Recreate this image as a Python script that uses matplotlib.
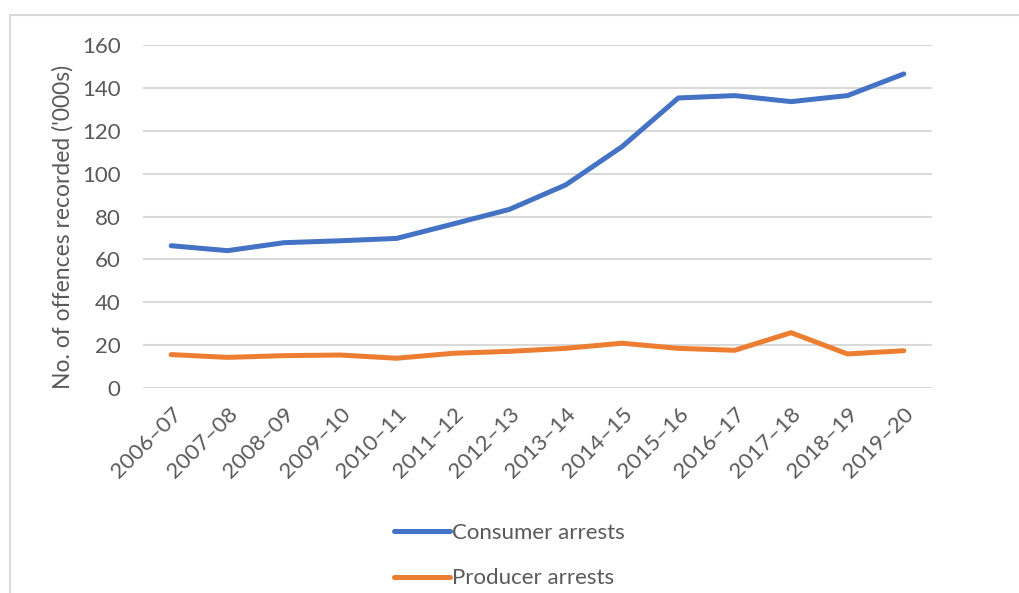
import matplotlib.pyplot as plt
from matplotlib.lines import Line2D

years = ['2006–07', '2007–08', '2008–09', '2009–10', '2010–11', '2011–12', '2012–13',
         '2013–14', '2014–15', '2015–16', '2016–17', '2017–18', '2018–19', '2019–20']
consumer = [66.4, 64.1, 67.8, 68.7, 69.8, 76.5, 83.3, 94.7, 112.5, 135.2, 136.3, 133.5, 136.3, 146.4]
producer = [15.7, 14.4, 15.2, 15.5, 14.0, 16.3, 17.2, 18.6, 21.0, 18.6, 17.7, 25.9, 16.0, 17.5]
yticks = [0, 20, 40, 60, 80, 100, 120, 140, 160]

plt.rcParams['font.family'] = ['Lato', 'DejaVu Sans']
txt = '#595959'
grid = '#d9d9d9'

fig = plt.figure(figsize=(10.19, 5.93), dpi=100)
ax = fig.add_axes([0.1403, 0.3452, 0.7743, 0.5794])

x = list(range(len(years)))
ax.plot(x, consumer, color='#4472C4', lw=3.6, label='Consumer arrests', solid_capstyle='round')
ax.plot(x, producer, color='#ED7D31', lw=3.6, label='Producer arrests', solid_capstyle='round')

ax.set_xlim(-0.5, len(years) - 0.5)
ax.set_ylim(0, 160)
ax.set_yticks(yticks)
ax.set_xticks(x)
ax.set_xticklabels(years, rotation=45, ha='right', rotation_mode='anchor')
ax.tick_params(axis='both', length=0, colors=txt, labelsize=16)
ax.tick_params(axis='y', pad=16)
ax.tick_params(axis='x', pad=11)
for s in ax.spines.values():
    s.set_visible(False)
ax.grid(axis='y', color=grid, lw=1.5)
ax.set_axisbelow(True)
ax.set_ylabel("No. of offences recorded ('000s)", color=txt, fontsize=16.5, labelpad=6, y=0.47)

fig.legend(loc='center', bbox_to_anchor=(0.5, 0.063), ncol=1, frameon=False,
           fontsize=16, handlelength=2.5, handletextpad=0.1, labelspacing=1.15,
           labelcolor=txt)

fig.add_artist(Line2D([0.0098, 1], [0.9747, 0.9747], color=grid, lw=1.5))
fig.add_artist(Line2D([0.0098, 0.0098], [0, 0.9747], color=grid, lw=1.5))

fig.savefig('out.png', dpi=100)
